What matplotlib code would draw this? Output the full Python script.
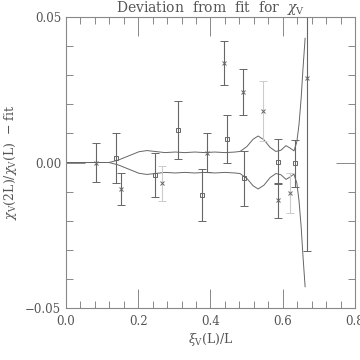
import numpy as np
import matplotlib.pyplot as plt

# data points: crosses
cross_x = [0.083, 0.152, 0.266, 0.389, 0.438, 0.489, 0.545, 0.586, 0.620, 0.666]
cross_y = [0.0000, -0.0091, -0.0072, 0.0034, 0.0341, 0.0242, 0.0177, -0.0129, -0.0104, 0.0291]
cross_e = [0.0067, 0.0055, 0.0060, 0.0066, 0.0075, 0.0080, 0.0103, 0.0060, 0.0068, 0.0596]
cross_light = [False, False, True, False, False, False, True, False, True, False]

# data points: squares
sq_x = [0.138, 0.247, 0.311, 0.376, 0.445, 0.493, 0.586, 0.634]
sq_y = [0.0014, -0.0043, 0.0112, -0.0112, 0.0080, -0.0054, 0.0003, -0.0003]
sq_e = [0.0086, 0.0077, 0.0100, 0.0089, 0.0083, 0.0095, 0.0077, 0.0080]

# band half-width of the fit uncertainty
band_x = [0.0, 0.119, 0.144, 0.172, 0.202, 0.224, 0.246, 0.274, 0.302, 0.329,
          0.357, 0.385, 0.412, 0.440, 0.468, 0.482, 0.501, 0.518, 0.532, 0.548,
          0.565, 0.581, 0.595, 0.609, 0.620, 0.631, 0.639, 0.645, 0.651, 0.656, 0.662]
band_w = [0.0, 0.0, 0.0008, 0.0022, 0.0037, 0.0041, 0.0038, 0.0034, 0.0036, 0.0034,
          0.0036, 0.0034, 0.0036, 0.0034, 0.0036, 0.0038, 0.0055, 0.0080, 0.0091, 0.0078,
          0.0052, 0.0038, 0.0042, 0.0058, 0.0050, 0.0040, 0.0070, 0.0130, 0.0220, 0.0320, 0.0427]

dark = '#666666'
light = '#cccccc'
txt = '#555555'

plt.rcParams['font.family'] = 'DejaVu Serif'
plt.rcParams['mathtext.fontset'] = 'dejavuserif'

fig = plt.figure(figsize=(3.6, 3.6), dpi=100)
ax = fig.add_axes([0.1833, 0.1444, 0.8027, 0.8084])

bx = np.array(band_x)
bw = np.array(band_w)
ax.plot(bx, bw, color=dark, lw=0.7)
ax.plot(bx, -bw, color=dark, lw=0.7)

for x, y, e, lt in zip(cross_x, cross_y, cross_e, cross_light):
    ax.errorbar(x, y, yerr=e, fmt='x', color=light if lt else dark, mec=dark,
                ms=3, mew=0.7, elinewidth=0.8, capsize=3, capthick=0.8)
ax.errorbar(sq_x, sq_y, yerr=sq_e, fmt='s', color=dark, mfc='none', mec=dark,
            ms=3.5, mew=0.7, elinewidth=0.8, capsize=3, capthick=0.8)

ax.set_xlim(0, 0.8)
ax.set_ylim(-0.05, 0.05)
ax.set_xticks([0.0, 0.2, 0.4, 0.6, 0.8])
ax.set_xticklabels(['0.0', '0.2', '0.4', '0.6', '0.8'])
ax.set_xticks(np.arange(0, 0.81, 0.04), minor=True)
ax.set_yticks([-0.05, 0.0, 0.05])
ax.set_yticklabels(['\u22120.05', '0.00', '0.05'])
ax.set_yticks(np.arange(-0.05, 0.051, 0.01), minor=True)
ax.tick_params(which='both', direction='in', top=True, right=True, color='#888888',
               labelcolor=txt, labelsize=8.5, width=0.7)
ax.tick_params(which='major', length=14)
ax.tick_params(which='minor', length=5)
ax.tick_params(axis='x', pad=5)
for s in ax.spines.values():
    s.set_color('#888888')
    s.set_linewidth(0.8)

ax.set_xlabel(r'$\xi_{\rm V}$(L)/L', color=txt, fontsize=9, labelpad=2)
ax.set_ylabel(r'$\chi_{\rm V}$(2L)/$\chi_{\rm V}$(L)  $-$ fit', color=txt, fontsize=9, labelpad=4)
fig.text(0.585, 0.968, r'Deviation  from  fit  for  $\chi_{\rm V}$', ha='center', va='baseline',
         color=txt, fontsize=10)

fig.savefig('out.png', dpi=100)
